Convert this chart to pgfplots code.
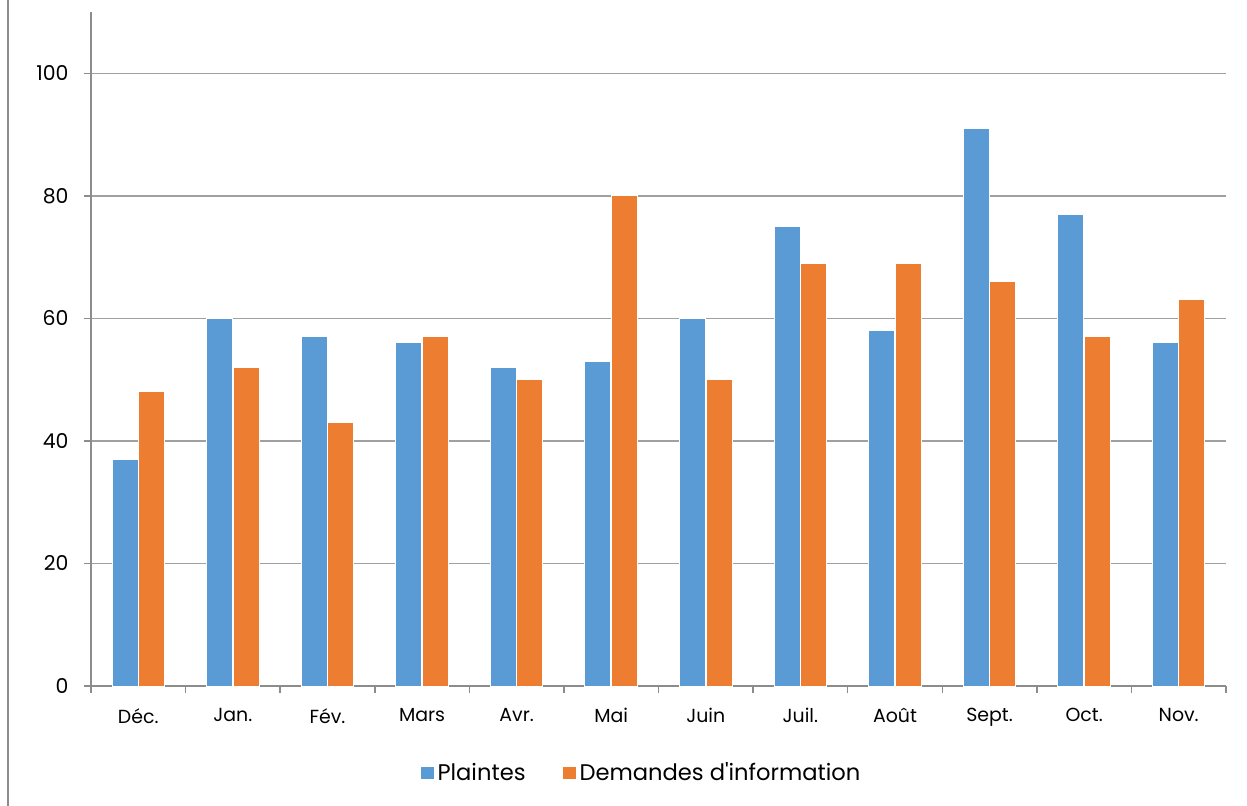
\documentclass[border=0pt]{standalone}
\usepackage{pgfplots}
\pgfplotsset{compat=1.18}
\usepackage{fontspec}
\setmainfont{Poppins}[Ligatures=TeXOff]
\definecolor{cblue}{HTML}{5B9BD5}
\definecolor{corange}{HTML}{ED7D31}
\definecolor{gridc}{HTML}{A0A0A0}
\definecolor{axc}{HTML}{8C8C8C}
\begin{document}
\begin{tikzpicture}
\begin{axis}[
  scale only axis,
  width=1135bp, height=674bp,
  at={(0bp,0bp)}, anchor=south west,
  xmin=-0.5, xmax=11.5,
  ymin=0, ymax=110,
  axis line style={axc, line width=1.5bp},
  axis x line*=bottom,
  axis y line*=left,
  x axis line style={-},
  y axis line style={-},
  xtick={-0.5,0.5,...,11.5},
  x tick label as interval,
  xticklabels={Déc.,Jan.,Fév.,Mars,Avr.,Mai,Juin,Juil.,Août,Sept.,Oct.,Nov.},
  ytick={0,20,...,100},
  ymajorgrids,
  grid style={gridc, line width=1.5bp},
  tick style={axc, line width=1.5bp},
  major tick length=7bp,
  tick align=outside,
  /pgf/number format/assume math mode=true,
  ticklabel style={font=\fontsize{19}{22}\selectfont, black},
  yticklabel style={font=\fontsize{20.5}{22}\selectfont, xshift=-12bp},
  xticklabel style={yshift=-12bp},
  legend style={at={(0.485,-0.128)}, anchor=center, draw=none, fill=none,
    font=\fontsize{22.7}{26}\selectfont, legend columns=2,
    nodes={inner ysep=1.5bp, inner xsep=3bp},
    /tikz/every even column/.append style={column sep=33bp}},
  legend image code/.code={\fill[#1] (0bp,-7bp) rectangle (14bp,6bp);},
  clip=false,
]
\addplot[ybar, bar width=0.275, bar shift=-0.14, fill=cblue, draw=white, line width=1bp]
  coordinates {(0,37) (1,60) (2,57) (3,56) (4,52) (5,53) (6,60) (7,75) (8,58) (9,91) (10,77) (11,56)};
\addlegendentry{Plaintes}
\addplot[ybar, bar width=0.275, bar shift=0.14, fill=corange, draw=white, line width=1bp]
  coordinates {(0,48) (1,52) (2,43) (3,57) (4,50) (5,80) (6,50) (7,69) (8,69) (9,66) (10,57) (11,63)};
\addlegendentry{Demandes d'information}
\end{axis}
\draw[axc, line width=2bp] (-83bp,-120bp) -- (-83bp,686bp);
\pgfresetboundingbox
\path (-91bp,-120bp) rectangle (1156bp,686bp);
\end{tikzpicture}
\end{document}
